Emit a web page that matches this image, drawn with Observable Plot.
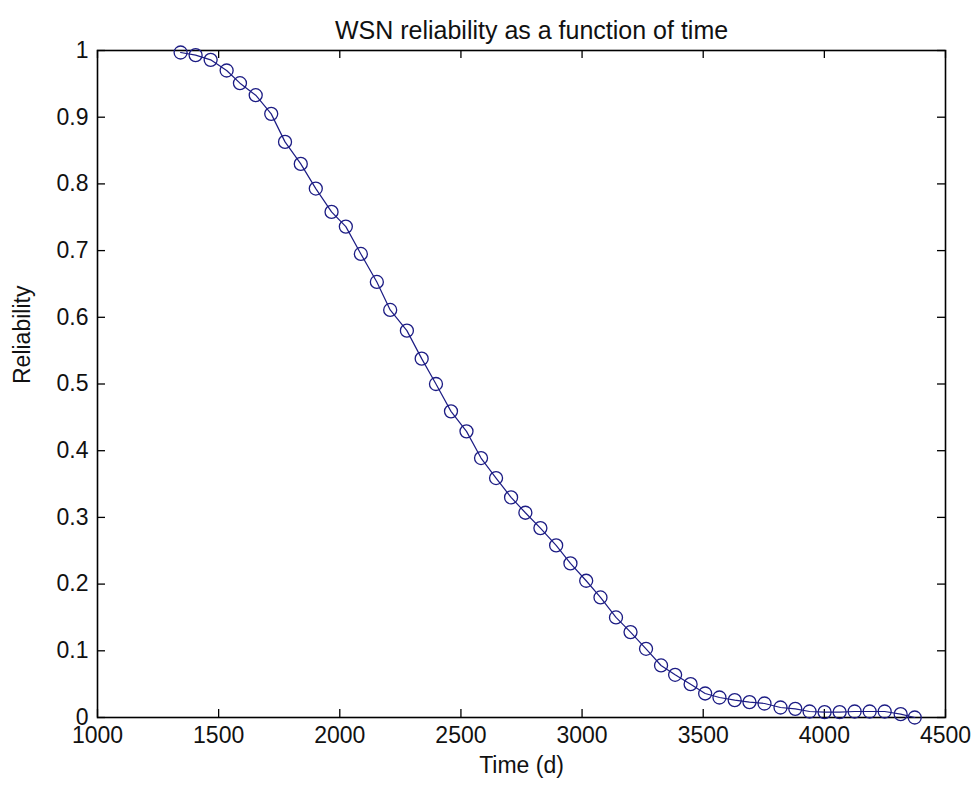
<!DOCTYPE html>
<html>
<head>
<meta charset="utf-8">
<script src="https://cdn.jsdelivr.net/npm/d3@7"></script>
<script src="https://cdn.jsdelivr.net/npm/@observablehq/plot@0.6"></script>
<style>
  body { margin: 0; background: #fff; }
</style>
</head>
<body>
<div id="chart"></div>
<script>
const title = "WSN reliability as a function of time";
const xLabel = "Time (d)";
const yLabel = "Reliability";

const time = [1343, 1405, 1467, 1533, 1588, 1653, 1717, 1774, 1839, 1901,
  1966, 2025, 2087, 2153, 2208, 2277, 2338, 2397, 2459, 2523,
  2583, 2645, 2707, 2766, 2828, 2893, 2952, 3017, 3076, 3140,
  3200, 3264, 3326, 3384, 3448, 3508, 3567, 3630, 3691, 3753,
  3819, 3880, 3939, 4001, 4063, 4125, 4187, 4249, 4315, 4373];
const reliability = [0.997, 0.993, 0.986, 0.970, 0.951, 0.933, 0.905, 0.863, 0.830, 0.793,
  0.758, 0.736, 0.695, 0.653, 0.611, 0.580, 0.538, 0.500, 0.459, 0.429,
  0.389, 0.359, 0.330, 0.307, 0.284, 0.258, 0.231, 0.205, 0.180, 0.150,
  0.128, 0.103, 0.078, 0.064, 0.050, 0.036, 0.030, 0.026, 0.023, 0.021,
  0.015, 0.013, 0.009, 0.008, 0.008, 0.009, 0.009, 0.009, 0.005, 0.000];

const xTicks = [1000, 1500, 2000, 2500, 3000, 3500, 4000, 4500];
const yTicks = [0, 0.1, 0.2, 0.3, 0.4, 0.5, 0.6, 0.7, 0.8, 0.9, 1];

const data = time.map((t, i) => ({t, r: reliability[i]}));

const W = 974, H = 790;
const mL = 97, mR = 29, mT = 50, mB = 73;
const plotW = W - mL - mR, plotH = H - mT - mB;
const tickLen = 8;
const ink = "#1c1c84";

const chart = Plot.plot({
  width: W,
  height: H,
  marginLeft: mL,
  marginRight: mR,
  marginTop: mT,
  marginBottom: mB,
  style: {fontSize: "23px", fontFamily: "Liberation Sans, Arial, sans-serif", color: "#111", background: "#fff"},
  x: {domain: [1000, 4500], axis: null},
  y: {domain: [0, 1], axis: null},
  marks: [
    Plot.axisX({ticks: xTicks, tickSize: 0, tickPadding: 9, label: null, tickFormat: d => String(d)}),
    Plot.axisY({ticks: yTicks, tickSize: 0, tickPadding: 9, label: null, tickFormat: d => String(+d.toFixed(1))}),
    Plot.tickX(xTicks, {x: d => d, insetTop: plotH - tickLen, stroke: "black", strokeWidth: 1.3}),
    Plot.tickX(xTicks, {x: d => d, insetBottom: plotH - tickLen, stroke: "black", strokeWidth: 1.3}),
    Plot.tickY(yTicks, {y: d => d, insetRight: plotW - tickLen, stroke: "black", strokeWidth: 1.3}),
    Plot.tickY(yTicks, {y: d => d, insetLeft: plotW - tickLen, stroke: "black", strokeWidth: 1.3}),
    Plot.frame({stroke: "black", strokeWidth: 1.6}),
    Plot.line(data, {x: "t", y: "r", stroke: ink, strokeWidth: 1.2}),
    Plot.dot(data, {x: "t", y: "r", r: 6.5, stroke: ink, fill: "none", strokeWidth: 1.3}),
    Plot.text([title], {frameAnchor: "top", dy: -29, dx: 10, fill: "#111", fontSize: 25}),
    Plot.text([xLabel], {frameAnchor: "bottom", dy: 55, fill: "#111", fontSize: 23}),
    Plot.text([yLabel], {frameAnchor: "left", dx: -75, rotate: -90, fill: "#111", fontSize: 23})
  ]
});
document.getElementById("chart").appendChild(chart);
</script>
</body>
</html>
